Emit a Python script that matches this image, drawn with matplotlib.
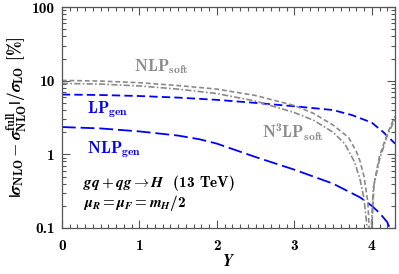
import numpy as np
from matplotlib import pyplot as plt
from matplotlib.ticker import MultipleLocator, LogLocator, NullFormatter

plt.rcParams["font.family"] = "cmb10"
plt.rcParams["mathtext.fontset"] = "custom"
plt.rcParams["mathtext.rm"] = "cmb10"
plt.rcParams["mathtext.bf"] = "cmb10"
plt.rcParams["mathtext.it"] = "STIXGeneral:italic:bold"
plt.rcParams["mathtext.sf"] = "STIXGeneral:bold"
plt.rcParams["axes.unicode_minus"] = False
plt.rcParams["lines.scale_dashes"] = False

# 曲线数据
y_lp_gen = [0, 0.5, 1.0, 1.5, 2.0, 2.5, 3.0, 3.5, 3.75, 4.0, 4.15, 4.3]
v_lp_gen = [6.5, 6.4, 6.2, 5.9, 5.5, 5.0, 4.5, 4.0, 3.4, 2.7, 2.0, 1.4]

y_nlp_gen = [0, 0.5, 1.0, 1.5, 1.78, 2.0, 2.5, 3.0, 3.5, 3.85, 4.0, 4.1, 4.2, 4.25, 4.27]
v_nlp_gen = [2.35, 2.25, 2.05, 1.8, 1.6, 1.4, 0.92, 0.62, 0.40, 0.26, 0.20, 0.16, 0.12, 0.09, 0.05]

y_nlp_soft = [0, 0.5, 1.0, 1.5, 2.0, 2.5, 3.0, 3.25, 3.5, 3.7, 3.8, 3.85, 3.9, 3.95, 3.98,
              4.0, 4.03, 4.1, 4.2, 4.3]
v_nlp_soft = [10.1, 9.9, 9.4, 8.6, 7.7, 6.3, 4.6, 3.6, 2.5, 1.7, 1.1, 0.8, 0.5, 0.22, 0.05,
              0.1, 0.4, 0.95, 1.9, 3.3]

y_n3lp_soft = [0, 0.5, 1.0, 1.5, 2.0, 2.5, 3.0, 3.25, 3.5, 3.65, 3.78, 3.85, 3.9, 3.94, 3.96,
               3.99, 4.02, 4.1, 4.2, 4.3]
v_n3lp_soft = [9.2, 9.0, 8.5, 7.7, 6.7, 5.3, 3.7, 2.9, 2.0, 1.4, 0.78, 0.45, 0.25, 0.1, 0.04,
               0.08, 0.35, 0.85, 1.8, 3.0]

x_ticks = [0, 1, 2, 3, 4]
y_ticks = [0.1, 1, 10, 100]
y_tick_labels = ["0.1", "1", "10", "100"]

blue = "#0000ff"
gray = "#8a8a8a"

fig = plt.figure(figsize=(3.99, 2.74), dpi=100)
ax = fig.add_axes([0.155, 0.168, 0.835, 0.806])

ax.plot(y_lp_gen, v_lp_gen, color=blue, lw=1.3, dashes=(6, 3))
ax.plot(y_nlp_gen, v_nlp_gen, color=blue, lw=1.3, dashes=(10, 3.5))
ax.plot(y_nlp_soft, v_nlp_soft, color=gray, lw=1.2, dashes=(3.5, 2))
ax.plot(y_n3lp_soft, v_n3lp_soft, color=gray, lw=1.2, dashes=(4.5, 1.6, 1.2, 1.6))

ax.set_yscale("log")
ax.set_xlim(0, 4.3)
ax.set_ylim(0.1, 100)

# 刻度
ax.set_xticks(x_ticks, labels=[str(t) for t in x_ticks])
ax.xaxis.set_minor_locator(MultipleLocator(0.1))
ax.set_yticks(y_ticks, labels=y_tick_labels)
ax.yaxis.set_minor_locator(LogLocator(base=10, subs=np.arange(2, 10)))
ax.yaxis.set_minor_formatter(NullFormatter())
ax.tick_params(which="both", direction="in", top=True, right=True, color="#555555", width=0.8)
ax.tick_params(which="major", length=6)
ax.tick_params(which="minor", length=3)
ax.tick_params(axis="x", pad=8, labelsize=11)
ax.tick_params(axis="y", pad=5, labelsize=11)
for s in ax.spines.values():
    s.set_color("#555555")
    s.set_linewidth(0.9)

ax.set_xlabel(r"$Y$", fontsize=12, labelpad=0)
ax.set_ylabel(r"$\mathsf{|}\sigma_{\mathrm{NLO}}-\sigma^{\mathrm{full}}_{\mathrm{NLO}}\mathsf{|}/\sigma_{\mathrm{LO}}$ [%]",
              fontsize=12.5, labelpad=2)

# 标注
ax.text(0.93, 13.4, r"$\mathrm{NLP}_{\mathrm{soft}}$", color=gray, fontsize=12, va="baseline")
ax.text(2.58, 1.65, r"$\mathrm{N}^{3}\mathrm{LP}_{\mathrm{soft}}$", color=gray, fontsize=12, va="baseline")
ax.text(0.33, 3.6, r"$\mathrm{LP}_{\mathrm{gen}}$", color=blue, fontsize=12, va="baseline")
ax.text(0.32, 1.03, r"$\mathrm{NLP}_{\mathrm{gen}}$", color=blue, fontsize=12, va="baseline")
ax.text(0.27, 0.356, r"$gq+qg\rightarrow H$  (13 TeV)", fontsize=11, va="baseline")
ax.text(0.27, 0.19, r"$\mu_R=\mu_F=m_H/2$", fontsize=11, va="baseline")

plt.savefig("out.png", dpi=100)
plt.close()
